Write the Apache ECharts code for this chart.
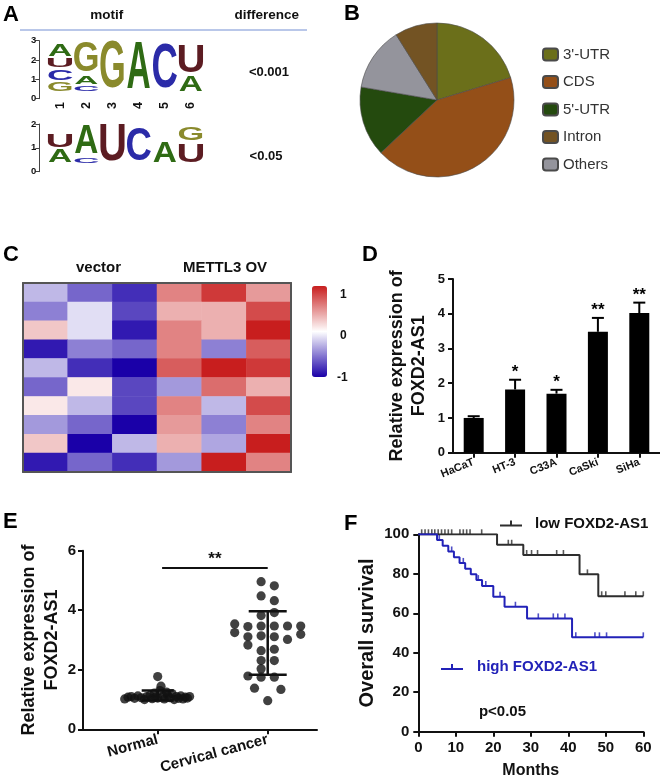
<!DOCTYPE html>
<html><head><meta charset="utf-8">
<script src="https://cdn.jsdelivr.net/npm/echarts@6/dist/echarts.min.js"></script>
<style>html,body{margin:0;padding:0;background:#fff}#c{width:660px;height:783px}</style>
</head><body><div id="c"></div>
<script>
const FONT = '"Liberation Sans", Arial, Helvetica, sans-serif';

// ---------- Panel A : motif logos ----------
const logoPositions = ['1', '2', '3', '4', '5', '6'];
const logo1Pos    = [0, 0, 0, 0, 1, 1, 1, 2, 3, 4, 5, 5];
const logo1Letter = ['G', 'C', 'U', 'A', 'C', 'A', 'G', 'G', 'A', 'C', 'A', 'U'];
const logo1Bits   = [0.64, 0.73, 0.66, 0.77, 0.40, 0.60, 1.97, 2.98, 2.88, 2.83, 1.00, 1.75];
const logo2Pos    = [0, 0, 1, 1, 2, 3, 4, 5, 5];
const logo2Letter = ['A', 'U', 'C', 'A', 'U', 'C', 'A', 'U', 'G'];
const logo2Bits   = [0.75, 0.80, 0.40, 1.60, 2.00, 1.84, 1.18, 1.08, 0.82];
const motifDifference = ['<0.001', '<0.05'];

// ---------- Panel B : pie ----------
const pieNames  = ["3'-UTR", 'CDS', "5'-UTR", 'Others', 'Intron'];
const pieValues = [20.3, 42.7, 14.7, 13.4, 8.9];
const pieLegendOrder = ["3'-UTR", 'CDS', "5'-UTR", 'Intron', 'Others'];

// ---------- Panel C : heatmap ----------
const heatColumns = ['vector 1', 'vector 2', 'vector 3', 'METTL3 OV 1', 'METTL3 OV 2', 'METTL3 OV 3'];
const heatRowNames = ['g1', 'g2', 'g3', 'g4', 'g5', 'g6', 'g7', 'g8', 'g9', 'g10'];
const heatRows = [
  [-0.28, -0.60, -0.82, 0.55, 0.88, 0.45],
  [-0.50, -0.13, -0.72, 0.35, 0.35, 0.80],
  [ 0.25, -0.13, -0.90, 0.55, 0.35, 1.00],
  [-0.90, -0.50, -0.60, 0.55, -0.50, 0.72],
  [-0.28, -0.82, -1.00, 0.72, 1.00, 0.88],
  [-0.60,  0.10, -0.72, -0.40, 0.65, 0.35],
  [ 0.10, -0.28, -0.72, 0.55, -0.28, 0.80],
  [-0.40, -0.60, -1.00, 0.45, -0.50, 0.55],
  [ 0.25, -1.00, -0.28, 0.35, -0.35, 1.00],
  [-0.90, -0.60, -0.82, -0.40, 1.00, 0.55]
];
const heatScaleLabels = ['1', '0', '-1'];

// ---------- Panel D : bars ----------
const cellLines = ['HaCaT', 'HT-3', 'C33A', 'CaSki', 'SiHa'];
const cellMeans = [1.00, 1.82, 1.70, 3.48, 4.02];
const cellErrTop = [1.05, 2.10, 1.81, 3.88, 4.32];
const cellStars = ['', '*', '*', '**', '**'];

// ---------- Panel E : dot plot ----------
const groupNames = ['Normal', 'Cervical cancer'];
const normalJitter = [-0.30, -0.27, -0.24, -0.21, -0.18, -0.15, -0.12, -0.10, -0.07, -0.05, -0.02, 0.00, 0.03, 0.02, 0.05, 0.06, 0.09, 0.11, 0.13, 0.15, 0.17, 0.19, 0.21, 0.23, 0.25, 0.27, 0.29, -0.03, 0.08, 0.00];
const normalValues = [1.02, 1.08, 1.10, 1.04, 1.12, 1.06, 1.00, 1.10, 1.14, 1.03, 1.08, 1.77, 1.45, 1.30, 1.12, 1.02, 1.15, 1.06, 1.20, 1.00, 1.10, 1.04, 1.12, 1.02, 1.08, 1.05, 1.10, 1.22, 1.25, 1.05];
const cancerJitter = [-0.06, 0.06, -0.06, 0.06, 0.06, -0.06, -0.30, -0.18, -0.06, 0.06, 0.18, 0.30, -0.30, -0.18, -0.06, 0.06, 0.18, 0.30, -0.18, -0.06, 0.06, -0.06, 0.06, -0.06, -0.18, -0.06, 0.06, -0.12, 0.12, 0.00];
const cancerValues = [4.96, 4.82, 4.48, 4.32, 3.92, 3.82, 3.54, 3.45, 3.47, 3.47, 3.47, 3.47, 3.25, 3.11, 3.14, 3.11, 3.02, 3.19, 2.83, 2.64, 2.69, 2.31, 2.31, 2.03, 1.79, 1.75, 1.75, 1.38, 1.34, 0.96];
const groupSd = [[1, 0.97, 1.30], [2, 1.83, 3.97]];   // [group, lower, upper]
const sigBracket = [[1.04, 5.42], [2.0, 5.42]];
const sigText = '**';

// ---------- Panel F : Kaplan-Meier ----------
const lowSteps  = [[0, 100], [21, 94.7], [28, 89.5], [43, 79.7], [48, 68.6], [60, 68.6]];
const highSteps = [[0, 100], [5, 97.1], [6.5, 94.2], [8, 91.3], [9.5, 88.4], [11, 85.5], [12.5, 82.6], [14, 79.7], [15.5, 76.8], [17, 73.8], [20, 68.4], [23, 63.3], [29, 57.4], [41, 47.8], [60, 47.8]];
const lowCensor  = [0.9, 1.8, 2.7, 3.6, 4.4, 5.3, 6.2, 7.1, 8.0, 8.9, 11.1, 12.0, 12.9, 13.8, 16.9, 24, 24.9, 28.9, 30.2, 31.8, 36.9, 38.7, 45.1, 48.9, 50, 55.1, 58, 60];
const highCensor = [5.6, 8.9, 12, 16, 18, 21.8, 25.9, 32, 36, 37.2, 39.1, 42, 47.1, 48.3, 50.2, 60];

// ================= helpers =================
function survivalAt(steps, t) {
  let v = steps[0][1];
  for (const s of steps) { if (s[0] <= t) v = s[1]; }
  return v;
}
function stackLogo(pos, bits) {
  const base = [0, 0, 0, 0, 0, 0];
  return pos.map((p, i) => { const b = base[p]; base[p] += bits[i]; return [p, b, base[p]]; });
}
const LC = { A: '#2f6b14', C: '#2b2ba8', G: '#8a8a2c', U: '#5c1c22' };
const INK_W = { A: 72, C: 66, G: 70, U: 60 };
const INK_H = { A: 72, C: 75, G: 75, U: 73 };
function logoRender(letters) {
  return function (params, api) {
    const x = api.value(0), y0 = api.value(1), y1 = api.value(2);
    const pad = 0.06;
    const pb = api.coord([x, y0 + pad]);
    const pt = api.coord([x, y1 - pad]);
    const bw = api.size([1, 0])[0];
    const L = letters[params.dataIndex];
    const h = pb[1] - pt[1];
    const sy = h / INK_H[L];
    const sx = (bw * 0.92) / INK_W[L];
    return {
      type: 'text', x: pb[0], y: (pb[1] + pt[1]) / 2 + 1.85 * sy, scaleX: sx, scaleY: sy,
      style: { text: L, font: 'bold 100px ' + FONT, fill: LC[L], align: 'center', verticalAlign: 'middle' }
    };
  };
}

const heatData = [];
heatRows.forEach((row, r) => row.forEach((v, c) => heatData.push([c, r, v])));

const axisTxt = (size) => ({ fontFamily: FONT, fontWeight: 'bold', fontSize: size, color: '#111' });
const blackLine = { lineStyle: { color: '#111', width: 2 } };

const option = {
  animation: false,
  backgroundColor: '#fff',
  textStyle: { fontFamily: FONT },
  grid: [
    { left: 47, top: 40.7, width: 157, height: 52.3 },     // 0 logo1 letters
    { left: 39.3, top: 40.7, width: 5, height: 58 },       // 1 logo1 axis
    { left: 47, top: 124.7, width: 157, height: 40 },      // 2 logo2 letters
    { left: 39.3, top: 124, width: 5, height: 47.7 },      // 3 logo2 axis
    { left: 23, top: 283, width: 268, height: 189 },       // 4 heatmap
    { left: 453, top: 279, width: 207, height: 173.7 },    // 5 panel D
    { left: 83, top: 550.7, width: 234, height: 178.6 },   // 6 panel E
    { left: 418.3, top: 534.3, width: 225, height: 197.4 } // 7 panel F
  ],
  xAxis: [
    { gridIndex: 0, type: 'category', data: logoPositions, axisLine: { show: false }, axisTick: { show: false },
      axisLabel: Object.assign({ rotate: 90, margin: 9, interval: 0 }, axisTxt(12.5)) },
    { gridIndex: 1, type: 'value', show: false, min: 0, max: 1 },
    { gridIndex: 2, type: 'category', data: logoPositions, show: false },
    { gridIndex: 3, type: 'value', show: false, min: 0, max: 1 },
    { gridIndex: 4, type: 'category', data: heatColumns, z: 10, axisLine: { show: true, lineStyle: { color: '#555', width: 2 } },
      axisTick: { show: false }, axisLabel: { show: false } },
    { gridIndex: 4, type: 'category', data: heatColumns, position: 'top', z: 10, axisLine: { show: true, lineStyle: { color: '#555', width: 2 } },
      axisTick: { show: false }, axisLabel: { show: false } },
    { gridIndex: 5, type: 'category', data: cellLines, axisLine: blackLine,
      axisTick: { show: true, alignWithLabel: true, length: 5, lineStyle: { color: '#111', width: 2 } },
      axisLabel: Object.assign({ rotate: 22, margin: 9, interval: 0 }, axisTxt(11)) },
    { gridIndex: 6, type: 'value', min: 0.321, max: 2.448, splitLine: { show: false }, axisLine: blackLine,
      axisTick: { show: true, customValues: [1, 2], length: 5, lineStyle: { color: '#111', width: 2 } },
      axisLabel: Object.assign({ customValues: [1, 2], rotate: 15, margin: 10, formatter: v => groupNames[Math.round(v) - 1] }, axisTxt(15)) },
    { gridIndex: 7, type: 'value', min: 0, max: 60, interval: 10, splitLine: { show: false }, axisLine: blackLine,
      axisTick: { show: true, length: 5, lineStyle: { color: '#111', width: 2 } },
      axisLabel: Object.assign({ margin: 9 }, axisTxt(15)),
      name: 'Months', nameLocation: 'middle', nameGap: 31, nameTextStyle: axisTxt(16) }
  ],
  yAxis: [
    { gridIndex: 0, type: 'value', min: 0, max: 3, show: false },
    { gridIndex: 1, type: 'value', min: 0, max: 3, interval: 1, splitLine: { show: false },
      axisLine: { show: true, lineStyle: { color: '#444', width: 1 } },
      axisTick: { show: true, length: 4, lineStyle: { color: '#444', width: 1 } },
      axisLabel: Object.assign({ margin: 3 }, axisTxt(9.5)) },
    { gridIndex: 2, type: 'value', min: 0, max: 2, show: false },
    { gridIndex: 3, type: 'value', min: 0, max: 2, interval: 1, splitLine: { show: false },
      axisLine: { show: true, lineStyle: { color: '#444', width: 1 } },
      axisTick: { show: true, length: 4, lineStyle: { color: '#444', width: 1 } },
      axisLabel: Object.assign({ margin: 3 }, axisTxt(9.5)) },
    { gridIndex: 4, type: 'category', data: heatRowNames, inverse: true, z: 10,
      axisLine: { show: true, lineStyle: { color: '#555', width: 2 } }, axisTick: { show: false }, axisLabel: { show: false } },
    { gridIndex: 4, type: 'category', data: heatRowNames, inverse: true, position: 'right', z: 10,
      axisLine: { show: true, lineStyle: { color: '#555', width: 2 } }, axisTick: { show: false }, axisLabel: { show: false } },
    { gridIndex: 5, type: 'value', min: 0, max: 5, interval: 1, splitLine: { show: false }, axisLine: Object.assign({ show: true }, blackLine),
      axisTick: { show: true, length: 5, lineStyle: { color: '#111', width: 2 } },
      axisLabel: Object.assign({ margin: 8 }, axisTxt(13)),
      name: 'Relative expression of\nFOXD2-AS1', nameLocation: 'middle', nameGap: 23, nameRotate: 90,
      nameTextStyle: Object.assign({ lineHeight: 22, align: 'center' }, axisTxt(18)) },
    { gridIndex: 6, type: 'value', min: 0, max: 6, interval: 2, splitLine: { show: false }, axisLine: Object.assign({ show: true }, blackLine),
      axisTick: { show: true, length: 5, lineStyle: { color: '#111', width: 2 } },
      axisLabel: Object.assign({ margin: 7 }, axisTxt(15)),
      name: 'Relative expression of\nFOXD2-AS1', nameLocation: 'middle', nameGap: 19, nameRotate: 90,
      nameTextStyle: Object.assign({ lineHeight: 23, align: 'center' }, axisTxt(18)) },
    { gridIndex: 7, type: 'value', min: 0, max: 100, interval: 20, splitLine: { show: false }, axisLine: Object.assign({ show: true }, blackLine),
      axisTick: { show: true, length: 5, lineStyle: { color: '#111', width: 2 } },
      axisLabel: Object.assign({ margin: 9 }, axisTxt(15)),
      name: 'Overall survival', nameLocation: 'middle', nameGap: 41, nameRotate: 90, nameTextStyle: axisTxt(20) }
  ],
  visualMap: {
    type: 'continuous', seriesIndex: 3, min: -1, max: 1, calculable: false,
    left: 312, top: 286, itemWidth: 15, itemHeight: 91, padding: 0,
    inRange: { color: ['#1a00a8', '#ffffff', '#c81e1e'] }
  },
  legend: [
    { data: pieLegendOrder, orient: 'vertical', left: 537, top: 42, itemWidth: 15, itemHeight: 12, itemGap: 12.5,
      selectedMode: false, textStyle: { fontFamily: FONT, fontSize: 15, color: '#333' } },
    { data: ['low FOXD2-AS1'], left: 495, top: 511, itemWidth: 22, itemHeight: 6, selectedMode: false,
      icon: 'path://M0,4 L22,4 L22,6 L0,6 Z M10,0 L12,0 L12,4 L10,4 Z',
      textStyle: { fontFamily: FONT, fontSize: 15, fontWeight: 'bold', color: '#111', padding: [0, 0, 0, 8] } },
    { data: ['high FOXD2-AS1'], left: 436, top: 654.5, itemWidth: 22, itemHeight: 6, selectedMode: false,
      icon: 'path://M0,4 L22,4 L22,6 L0,6 Z M10,0 L12,0 L12,4 L10,4 Z',
      textStyle: { fontFamily: FONT, fontSize: 15, fontWeight: 'bold', color: '#2222b8', padding: [0, 0, 0, 9] } }
  ],
  graphic: [
    { type: 'text', left: 3, top: 4, style: { text: 'A', font: 'bold 22px ' + FONT, fill: '#000' } },
    { type: 'text', left: 344, top: 3, style: { text: 'B', font: 'bold 22px ' + FONT, fill: '#000' } },
    { type: 'text', left: 3, top: 244, style: { text: 'C', font: 'bold 22px ' + FONT, fill: '#000' } },
    { type: 'text', left: 362, top: 244, style: { text: 'D', font: 'bold 22px ' + FONT, fill: '#000' } },
    { type: 'text', left: 3, top: 511, style: { text: 'E', font: 'bold 22px ' + FONT, fill: '#000' } },
    { type: 'text', left: 344, top: 513, style: { text: 'F', font: 'bold 22px ' + FONT, fill: '#000' } },
    { type: 'text', x: 106.7, y: 15, style: { text: 'motif', font: 'bold 13.5px ' + FONT, fill: '#111', align: 'center', verticalAlign: 'middle' } },
    { type: 'text', x: 266.7, y: 15, style: { text: 'difference', font: 'bold 13.5px ' + FONT, fill: '#111', align: 'center', verticalAlign: 'middle' } },
    { type: 'line', shape: { x1: 20, y1: 30, x2: 307, y2: 30 }, style: { stroke: '#a2b4e2', lineWidth: 1.5 } },
    { type: 'text', x: 269, y: 72, style: { text: motifDifference[0], font: 'bold 13px ' + FONT, fill: '#111', align: 'center', verticalAlign: 'middle' } },
    { type: 'text', x: 266, y: 156, style: { text: motifDifference[1], font: 'bold 13px ' + FONT, fill: '#111', align: 'center', verticalAlign: 'middle' } },
    { type: 'text', x: 98.5, y: 268, style: { text: 'vector', font: 'bold 15px ' + FONT, fill: '#111', align: 'center', verticalAlign: 'middle' } },
    { type: 'text', x: 225, y: 268, style: { text: 'METTL3 OV', font: 'bold 15px ' + FONT, fill: '#111', align: 'center', verticalAlign: 'middle' } },
    { type: 'text', x: 340, y: 295, style: { text: heatScaleLabels[0], font: 'bold 12px ' + FONT, fill: '#111', verticalAlign: 'middle' } },
    { type: 'text', x: 340, y: 336, style: { text: heatScaleLabels[1], font: 'bold 12px ' + FONT, fill: '#111', verticalAlign: 'middle' } },
    { type: 'text', x: 337, y: 378, style: { text: heatScaleLabels[2], font: 'bold 12px ' + FONT, fill: '#111', verticalAlign: 'middle' } },
    { type: 'text', x: 502.5, y: 712, style: { text: 'p<0.05', font: 'bold 15px ' + FONT, fill: '#111', align: 'center', verticalAlign: 'middle' } }
  ],
  series: [
    { type: 'custom', xAxisIndex: 0, yAxisIndex: 0, encode: { x: 0, y: [1, 2] },
      data: stackLogo(logo1Pos, logo1Bits), renderItem: logoRender(logo1Letter) },
    { type: 'custom', xAxisIndex: 2, yAxisIndex: 2, encode: { x: 0, y: [1, 2] },
      data: stackLogo(logo2Pos, logo2Bits), renderItem: logoRender(logo2Letter) },
    { type: 'pie', center: [437, 100], radius: 77, startAngle: 90, clockwise: true, label: { show: false },
      labelLine: { show: false }, emphasis: { disabled: true },
      itemStyle: { borderColor: '#4a4a4a', borderWidth: 0.6 },
      color: ['#6b6f1a', '#944f18', '#244a0e', '#94949c', '#735323'],
      data: pieNames.map((n, i) => ({ name: n, value: pieValues[i] })) },
    { type: 'heatmap', xAxisIndex: 4, yAxisIndex: 4, data: heatData, itemStyle: { borderWidth: 0 }, emphasis: { disabled: true } },
    { type: 'bar', xAxisIndex: 6, yAxisIndex: 6, data: cellMeans, barWidth: 20, itemStyle: { color: '#000' } },
    { type: 'custom', xAxisIndex: 6, yAxisIndex: 6, z: 5, encode: { x: 0, y: [1, 2] },
      data: cellMeans.map((m, i) => [i, m, cellErrTop[i]]),
      renderItem: function (params, api) {
        const i = api.value(0), v = api.value(1), t = api.value(2);
        const p0 = api.coord([i, v]), p1 = api.coord([i, t]);
        return { type: 'group', children: [
          { type: 'line', shape: { x1: p0[0], y1: p0[1], x2: p1[0], y2: p1[1] }, style: { stroke: '#000', lineWidth: 2 } },
          { type: 'line', shape: { x1: p1[0] - 6, y1: p1[1], x2: p1[0] + 6, y2: p1[1] }, style: { stroke: '#000', lineWidth: 2 } },
          { type: 'text', x: p1[0], y: p1[1] + 1, style: { text: cellStars[params.dataIndex], font: 'bold 17px ' + FONT, fill: '#000', align: 'center', verticalAlign: 'bottom' } }
        ] };
      } },
    { type: 'scatter', xAxisIndex: 7, yAxisIndex: 7, symbolSize: 9.2, itemStyle: { color: '#111' },
      data: normalValues.map((v, i) => [1 + normalJitter[i], v]) },
    { type: 'scatter', xAxisIndex: 7, yAxisIndex: 7, symbolSize: 9.2, itemStyle: { color: '#111' },
      data: cancerValues.map((v, i) => [2 + cancerJitter[i], v]) },
    { type: 'custom', xAxisIndex: 7, yAxisIndex: 7, z: 5, encode: { x: 0, y: [1, 2] }, data: groupSd,
      renderItem: function (params, api) {
        const g = api.value(0), lo = api.value(1), hi = api.value(2);
        const a = api.coord([g, lo]), b = api.coord([g, hi]);
        const hw = params.dataIndex === 0 ? 16 : 19;
        return { type: 'group', children: [
          { type: 'line', shape: { x1: a[0], y1: a[1], x2: b[0], y2: b[1] }, style: { stroke: '#111', lineWidth: 2.5 } },
          { type: 'line', shape: { x1: a[0] - hw, y1: a[1], x2: a[0] + hw, y2: a[1] }, style: { stroke: '#111', lineWidth: 2.5 } },
          { type: 'line', shape: { x1: b[0] - hw, y1: b[1], x2: b[0] + hw, y2: b[1] }, style: { stroke: '#111', lineWidth: 2.5 } }
        ] };
      } },
    { type: 'line', xAxisIndex: 7, yAxisIndex: 7, data: sigBracket, symbol: 'none', lineStyle: { color: '#111', width: 2 },
      markPoint: { symbol: 'circle', symbolSize: 0,
        data: [{ coord: [(sigBracket[0][0] + sigBracket[1][0]) / 2, sigBracket[0][1]] }],
        label: { show: true, formatter: sigText, position: 'top', distance: 0, fontFamily: FONT, fontWeight: 'bold', fontSize: 17, color: '#111', lineHeight: 17 } } },
    { type: 'line', name: 'low FOXD2-AS1', xAxisIndex: 8, yAxisIndex: 8, step: 'end', data: lowSteps, showSymbol: false, symbol: 'none',
      color: '#2e2e2e', lineStyle: { color: '#2e2e2e', width: 2 } },
    { type: 'line', name: 'high FOXD2-AS1', xAxisIndex: 8, yAxisIndex: 8, step: 'end', data: highSteps, showSymbol: false, symbol: 'none',
      color: '#2222b8', lineStyle: { color: '#2222b8', width: 2 } },
    { type: 'scatter', name: 'low censored', xAxisIndex: 8, yAxisIndex: 8, symbol: 'rect', symbolSize: [1.6, 5], symbolOffset: [0, -2.5],
      itemStyle: { color: '#2e2e2e' }, data: lowCensor.map(t => [t, survivalAt(lowSteps, t)]) },
    { type: 'scatter', name: 'high censored', xAxisIndex: 8, yAxisIndex: 8, symbol: 'rect', symbolSize: [1.6, 5], symbolOffset: [0, -2.5],
      itemStyle: { color: '#2222b8' }, data: highCensor.map(t => [t, survivalAt(highSteps, t)]) }
  ]
};

const chart = echarts.init(document.getElementById('c'), null, { renderer: 'canvas', width: 660, height: 783 });
chart.setOption(option);
</script>
</body></html>
